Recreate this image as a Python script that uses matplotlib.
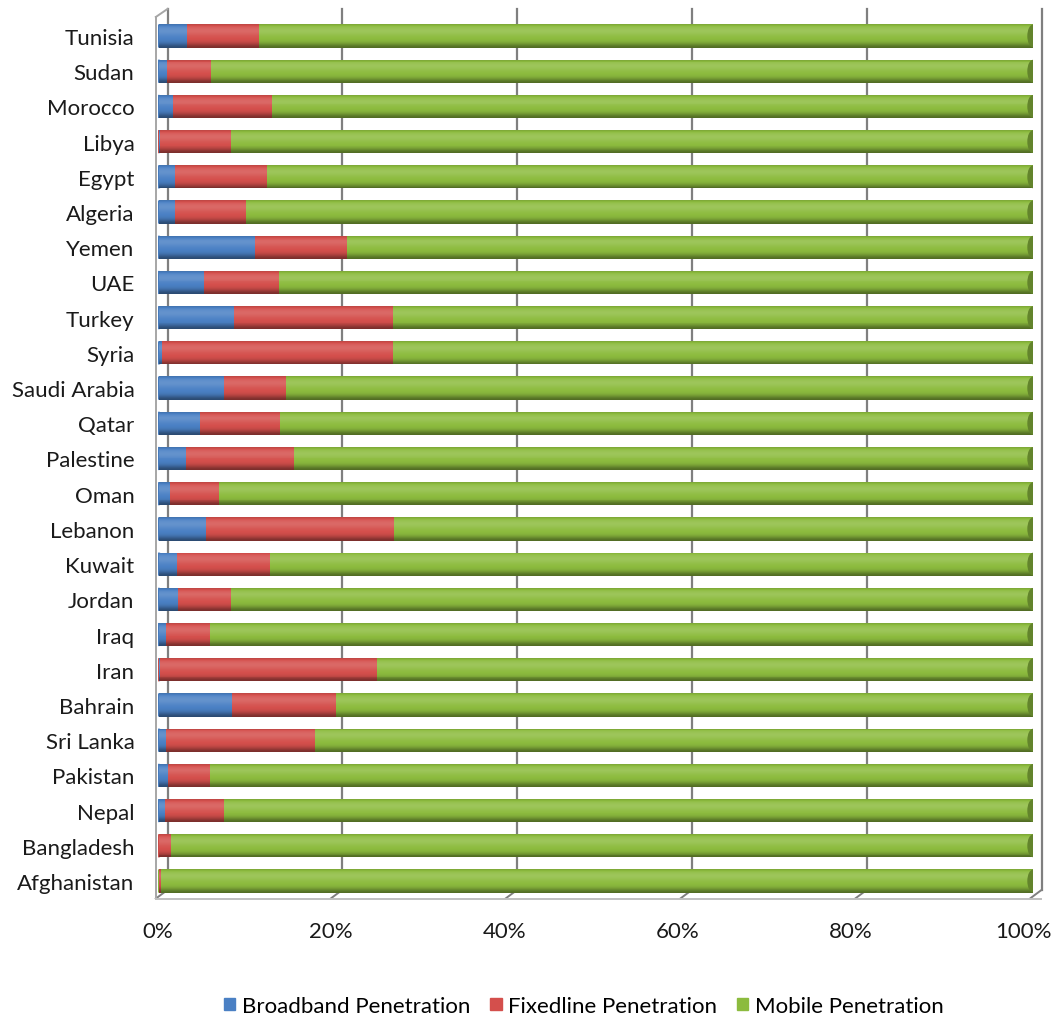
import numpy as np
import matplotlib.pyplot as plt
from matplotlib.patches import Ellipse, Patch
from matplotlib.colors import to_rgb

plt.rcParams["font.family"] = ["Lato", "DejaVu Sans"]

countries = ["Tunisia", "Sudan", "Morocco", "Libya", "Egypt", "Algeria", "Yemen", "UAE",
             "Turkey", "Syria", "Saudi Arabia", "Qatar", "Palestine", "Oman", "Lebanon",
             "Kuwait", "Jordan", "Iraq", "Iran", "Bahrain", "Sri Lanka", "Pakistan",
             "Nepal", "Bangladesh", "Afghanistan"]
broadband = [3.2, 0.9, 1.6, 0.1, 1.8, 1.9, 11.0, 5.2,
             8.6, 0.4, 7.5, 4.7, 3.1, 1.3, 5.4,
             2.1, 2.2, 0.8, 0.1, 8.4, 0.8, 1.1,
             0.7, 0.05, 0.02]
fixedline = [8.2, 5.1, 11.3, 8.2, 10.6, 8.1, 10.5, 8.5,
             18.2, 26.4, 7.0, 9.2, 12.4, 5.6, 21.5,
             10.6, 6.0, 5.1, 24.8, 11.9, 17.1, 4.8,
             6.8, 1.35, 0.25]
mobile = [100 - b - f for b, f in zip(broadband, fixedline)]
tick_pct = [0, 20, 40, 60, 80, 100]

series = [("Broadband Penetration", broadband, "#4a80c4"),
          ("Fixedline Penetration", fixedline, "#d44f4c"),
          ("Mobile Penetration", mobile, "#8cbb3e")]

H = 0.66   # bar height in rows
N = 24     # strips for the cylinder shading


def shade(col, t):
    # t: 0 bottom .. 1 top of the cylinder
    c = np.array(to_rgb(col))
    f = (1.0 + 0.12 * np.exp(-((t - 0.72) / 0.2) ** 2)
         - 0.42 * np.exp(-(t / 0.2) ** 2) - 0.12 * np.exp(-((1 - t) / 0.08) ** 2))
    if f >= 1:
        return tuple(c + (1 - c) * (f - 1) * 1.2)
    return tuple(c * f)


fig = plt.figure(figsize=(10.56, 10.2), dpi=100)
ax = fig.add_axes([158 / 1056, 1 - 899.6 / 1020, 875 / 1056, 880.2 / 1020])

y = np.arange(len(countries))[::-1]   # Tunisia on top
left = np.zeros(len(countries))
for name, vals, col in series:
    vals = np.array(vals)
    for i in range(N):
        t = (i + 0.5) / N
        ax.barh(y - H / 2 + i * H / N, vals, height=H / N * 1.6 if i < N - 1 else H / N,
                left=left, align="edge", color=shade(col, t), linewidth=0,
                antialiased=False, zorder=3)
    left = left + vals

# rounded ends of the cylinders
green = series[2][2]
for yi, b, f in zip(y, broadband, fixedline):
    first = series[0][2] if b >= 0.3 else (series[1][2] if f >= 0.3 else green)
    ax.add_patch(Ellipse((0, yi), 1.3, H, color=shade(first, 0.3), lw=0, zorder=2))
    ax.add_patch(Ellipse((100, yi), 1.3, H * 0.98, color=shade(green, 0.12), lw=0, zorder=4))

# 3D back wall, floor and grid
gcol = "#7f7f7f"
top_back, top_front = 24.77, 24.54
floor_front, floor_back = -0.5, -0.25
for p in tick_pct:
    xf, xb = p - 0.35, p + 1.0
    ax.plot([xb, xb], [floor_back, top_back], color=gcol, lw=1.6, zorder=1, clip_on=False)
    ax.plot([xf, xb], [floor_front, floor_back], color=gcol, lw=1.4, zorder=1, clip_on=False)
ax.plot([-0.35, 100.9], [floor_front, floor_front], color="#bfbfbf", lw=1.4, clip_on=False)
ax.plot([-0.35, -0.35], [floor_front, top_front], color="#a6a6a6", lw=1.4, clip_on=False, zorder=1)
ax.plot([-0.35, 1.0], [top_front, top_back], color="#a6a6a6", lw=1.4, clip_on=False)

ax.set_xlim(0, 100)
ax.set_ylim(-0.5, 24.5)
ax.set_yticks(y)
ax.set_yticklabels(countries, fontsize=16)
ax.set_xticks([p * 0.99 - 0.1 for p in tick_pct])
ax.set_xticklabels([f"{p}%" for p in tick_pct], fontsize=16)
ax.tick_params(axis="y", length=0, pad=17, colors="#1a1a1a")
ax.tick_params(axis="x", length=0, pad=16, colors="#1a1a1a")
for s in ax.spines.values():
    s.set_visible(False)

handles = [Patch(color=c, label=n) for n, _, c in series]
fig.legend(handles=handles, loc="center", bbox_to_anchor=(584 / 1056, 1 - 1007 / 1020),
           ncol=3, frameon=False, fontsize=16, handlelength=0.5, handleheight=0.5,
           handletextpad=0.3, columnspacing=0.9)

fig.savefig("out.png", dpi=100, facecolor="white")
